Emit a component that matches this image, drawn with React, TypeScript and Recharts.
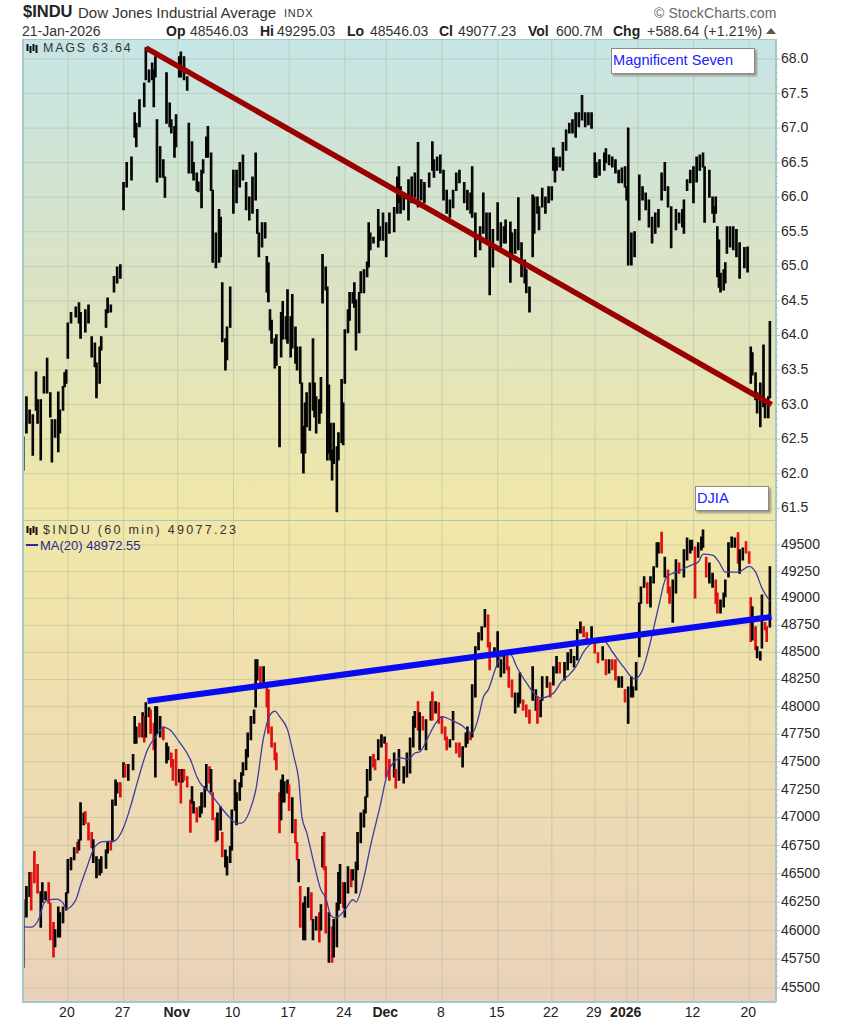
import { Bar, CartesianGrid, Cell, ComposedChart, Line, XAxis, YAxis } from "recharts";

// x positions are 60-minute session counts from the first bar on the chart
const sessionDomain = [-0.2, 472.8];
const gridHours = [28, 63, 97, 132, 167, 202, 228, 263, 298, 332, 359, 379, 386, 421, 456];
const gridLabels = ["20", "27", "Nov", "10", "17", "24", "Dec", "8", "15", "22", "29", "2026", "", "12", "20"];
const boldLabels = ["Nov", "Dec", "2026"];

const magsTicks = [61.5, 62, 62.5, 63, 63.5, 64, 64.5, 65, 65.5, 66, 66.5, 67, 67.5, 68];
const induTicks = [45500, 45750, 46000, 46250, 46500, 46750, 47000, 47250, 47500, 47750, 48000, 48250, 48500, 48750, 49000, 49250, 49500];

const magsHours = [
  0, 2, 4, 6, 8, 9, 11, 13, 15, 17,
  18, 20, 22, 23, 25, 26, 27, 28, 30, 33,
  35, 36, 39, 41, 43, 45, 46, 48, 49, 52,
  53, 55, 57, 59, 61, 63, 65, 68, 70, 71,
  73, 76, 77, 79, 81, 82, 83, 84, 86, 88,
  89, 90, 92, 93, 95, 96, 98, 99, 101, 103,
  104, 106, 107, 109, 110, 112, 113, 115, 116, 118,
  119, 121, 123, 124, 125, 127, 128, 130, 132, 134,
  136, 138, 140, 142, 144, 146, 147, 148, 150, 152,
  153, 154, 155, 156, 158, 159, 161, 162, 163, 165,
  166, 168, 169, 171, 172, 174, 175, 176, 177, 178,
  180, 182, 183, 184, 186, 187, 188, 190, 191, 192,
  193, 194, 195, 197, 198, 200, 201, 202, 204, 205,
  207, 208, 209, 211, 212, 214, 216, 217, 218, 220,
  223, 224, 226, 228, 230, 233, 235, 236, 237, 239,
  242, 244, 246, 248, 250, 252, 255, 257, 258, 260,
  262, 264, 266, 268, 270, 272, 274, 277, 279, 281,
  282, 284, 287, 289, 291, 293, 295, 298, 300, 302,
  303, 306, 307, 309, 311, 313, 315, 316, 318, 320,
  321, 323, 324, 326, 328, 330, 332, 333, 334, 335,
  337, 339, 341, 343, 345, 347, 349, 351, 353, 355,
  357, 359, 360, 362, 365, 366, 368, 370, 372, 374,
  376, 378, 379, 380, 382, 384, 387, 389, 391, 393,
  395, 397, 399, 401, 403, 405, 407, 410, 412, 414,
  415, 417, 419, 421, 423, 425, 427, 428, 431, 433,
  434, 435, 436, 437, 438, 440, 441, 442, 444, 446,
  448, 450, 453, 455, 457, 458, 460, 461, 463, 465,
  466, 468, 469,
];
const magsHighs = [
  62.53, 63.11, 62.92, 62.85, 63.47, 63.07, 63.07, 63.4, 63.67, 63.17,
  62.78, 62.78, 63.18, 62.92, 63.26, 63.46, 63.5, 64.18, 64.33, 64.41,
  64.47, 64.33, 64.37, 64.44, 63.98, 63.89, 63.6, 63.83, 63.98, 64.37,
  64.54, 64.44, 64.85, 64.99, 65.02, 66.21, 66.5, 66.58, 67.22, 67.07,
  67.41, 67.65, 68.16, 67.84, 67.94, 67.84, 68.03, 67.12, 66.73, 66.54,
  66.29, 67.8, 67.36, 67.12, 67.02, 67.19, 68.03, 68.1, 68.03, 67.74,
  67.07, 66.8, 66.5, 66.35, 66.22, 66.39, 66.54, 66.87, 67.02, 66.64,
  66.1, 65.48, 65.82, 65.71, 64.76, 63.95, 64.12, 64.7, 66.39, 66.39,
  66.5, 66.61, 66.21, 66.0, 66.29, 66.64, 65.82, 65.48, 65.63, 65.63,
  65.14, 65.05, 64.37, 64.22, 63.95, 64.01, 63.55, 64.33, 64.49, 64.27,
  64.66, 64.27, 64.59, 64.12, 63.83, 63.83, 63.31, 62.68, 63.02, 63.17,
  63.31, 63.95, 63.31, 63.11, 63.07, 63.39, 65.17, 64.99, 64.7, 63.28,
  62.73, 62.34, 62.73, 62.39, 62.59, 63.36, 63.02, 64.08, 64.37, 64.62,
  64.62, 64.76, 64.51, 64.62, 64.92, 64.95, 65.06, 65.63, 65.48, 65.42,
  65.82, 65.57, 65.77, 65.63, 65.77, 65.85, 66.29, 66.44, 66.15, 66.06,
  66.25, 66.29, 66.35, 66.79, 66.25, 66.21, 66.35, 66.8, 66.54, 66.58,
  66.61, 66.39, 66.1, 65.96, 66.1, 66.35, 66.39, 66.21, 66.1, 66.06,
  66.44, 65.77, 65.57, 66.06, 65.77, 65.77, 65.53, 65.92, 65.63, 65.57,
  65.67, 65.64, 65.48, 65.53, 65.99, 65.34, 65.09, 64.95, 64.7, 66.03,
  66.0, 66.0, 65.86, 66.13, 66.0, 66.15, 66.15, 66.71, 66.58, 66.58,
  66.58, 66.79, 66.97, 67.07, 67.12, 67.22, 67.22, 67.47, 67.22, 67.22,
  67.22, 66.64, 66.5, 66.54, 66.64, 66.7, 66.61, 66.58, 66.54, 66.39,
  66.42, 66.44, 66.15, 67.0, 65.48, 65.5, 66.32, 66.15, 66.06, 65.96,
  65.71, 65.77, 65.82, 66.35, 66.5, 66.15, 65.86, 65.82, 65.77, 65.82,
  65.96, 66.25, 66.39, 66.44, 66.58, 66.61, 66.64, 66.44, 66.39, 66.0,
  65.86, 66.0, 65.57, 65.38, 64.9, 64.95, 65.05, 65.57, 65.57, 65.57,
  65.53, 65.34, 65.27, 65.28, 63.83, 63.75, 63.46, 63.17, 63.31, 63.86,
  63.07, 63.11, 64.2,
];
const magsLows = [
  62.05, 62.59, 62.73, 62.27, 62.92, 62.73, 62.2, 63.17, 63.17, 62.82,
  62.17, 62.53, 62.32, 62.59, 62.92, 63.26, 63.31, 63.67, 64.18, 64.27,
  64.18, 63.96, 64.05, 64.18, 63.69, 63.55, 63.1, 63.31, 63.79, 64.12,
  64.33, 64.34, 64.63, 64.76, 64.83, 65.82, 66.15, 66.25, 66.87, 66.73,
  67.02, 67.31, 67.7, 67.67, 67.7, 67.31, 67.74, 66.22, 66.29, 66.29,
  66.0, 67.07, 67.02, 66.93, 66.58, 66.73, 67.74, 67.74, 67.7, 67.55,
  66.35, 66.35, 66.25, 66.1, 66.08, 65.85, 66.35, 66.58, 66.58, 66.1,
  65.06, 64.98, 65.06, 65.14, 63.91, 63.5, 63.65, 64.12, 65.77, 65.92,
  66.15, 66.25, 65.82, 65.67, 65.77, 65.96, 65.48, 65.14, 65.28, 65.41,
  64.63, 64.49, 64.08, 63.89, 63.53, 63.57, 62.39, 63.69, 63.95, 63.95,
  63.89, 63.69, 63.82, 63.6, 63.5, 63.31, 62.3, 62.01, 62.3, 62.68,
  62.63, 62.92, 62.82, 62.59, 62.73, 62.88, 64.47, 64.66, 62.2, 62.3,
  62.2, 61.91, 62.15, 61.45, 62.2, 62.45, 62.42, 63.31, 64.04, 64.22,
  64.47, 64.41, 63.79, 64.04, 64.62, 64.62, 64.85, 64.99, 65.24, 65.34,
  65.28, 65.38, 65.38, 65.14, 65.48, 65.5, 65.77, 65.92, 65.77, 65.82,
  65.67, 65.92, 66.0, 65.86, 65.96, 65.92, 66.15, 66.39, 66.29, 66.39,
  66.35, 65.96, 65.77, 65.71, 65.85, 66.1, 66.21, 65.92, 65.82, 65.77,
  65.71, 65.14, 65.24, 65.48, 65.34, 64.59, 64.99, 65.38, 65.28, 65.34,
  65.34, 64.77, 65.14, 65.19, 65.24, 64.85, 64.76, 64.62, 64.34, 65.14,
  65.48, 65.77, 65.53, 65.86, 65.77, 65.92, 65.96, 66.39, 66.22, 66.39,
  66.44, 66.39, 66.68, 66.93, 66.93, 66.87, 67.02, 67.12, 67.02, 67.05,
  67.0, 66.29, 66.29, 66.32, 66.39, 66.5, 66.47, 66.44, 66.35, 66.21,
  66.21, 66.15, 65.96, 65.02, 65.02, 65.14, 65.67, 65.96, 65.82, 65.57,
  65.34, 65.48, 65.57, 65.96, 66.1, 65.86, 65.27, 65.53, 65.63, 65.57,
  65.48, 66.1, 66.21, 65.92, 66.22, 66.39, 66.44, 65.64, 66.0, 65.77,
  65.64, 65.77, 64.85, 64.7, 64.63, 64.66, 64.76, 65.19, 65.28, 65.24,
  65.14, 64.83, 64.98, 64.92, 63.31, 63.43, 63.07, 62.88, 62.68, 62.97,
  62.81, 62.81, 63.1,
];
const magsTrendHours = [77, 470];
const magsTrendValues = [68.16, 63.0];

const induHours = [
  0, 2, 4, 5, 7, 9, 11, 12, 14, 16,
  17, 19, 20, 22, 23, 25, 27, 28, 30, 32,
  34, 35, 36, 38, 39, 41, 43, 44, 46, 48,
  49, 52, 53, 55, 56, 58, 59, 61, 63, 64,
  66, 69, 70, 71, 73, 75, 76, 77, 79, 80,
  82, 83, 84, 86, 88, 90, 91, 93, 94, 96,
  98, 99, 100, 101, 103, 105, 106, 107, 109, 111,
  112, 114, 115, 117, 118, 119, 121, 122, 124, 125,
  127, 128, 130, 131, 133, 134, 136, 137, 138, 140,
  141, 143, 145, 146, 147, 149, 151, 153, 154, 156,
  158, 159, 161, 162, 163, 164, 166, 167, 169, 171,
  172, 173, 174, 176, 177, 179, 181, 182, 184, 186,
  187, 188, 189, 190, 192, 194, 195, 197, 198, 199,
  201, 202, 204, 206, 207, 209, 210, 212, 214, 215,
  216, 218, 220, 221, 223, 225, 227, 228, 230, 233,
  234, 236, 239, 241, 243, 245, 246, 248, 249, 251,
  253, 256, 257, 259, 261, 263, 265, 266, 268, 270,
  272, 274, 276, 278, 279, 281, 282, 284, 286, 288,
  290, 292, 293, 296, 298, 300, 302, 304, 305, 307,
  309, 311, 312, 314, 316, 318, 320, 322, 323, 325,
  326, 329, 331, 333, 335, 337, 340, 342, 344, 346,
  348, 350, 352, 354, 357, 359, 361, 364, 366, 368,
  370, 372, 374, 376, 378, 380, 382, 383, 385, 387,
  388, 390, 392, 394, 396, 398, 399, 401, 403, 405,
  406, 408, 410, 412, 415, 417, 419, 420, 422, 424,
  426, 427, 429, 431, 433, 435, 436, 438, 440, 441,
  443, 445, 447, 449, 450, 452, 454, 456, 457, 458,
  460, 461, 463, 464, 466, 467, 469,
];
const induHighs = [
  46270, 46385, 46510, 46510, 46695, 46580, 46340, 46420, 46340, 46420,
  46240, 46070, 46005, 46205, 46155, 46205, 46330, 46625, 46640, 46730,
  46775, 46800, 47130, 47040, 47050, 46950, 46865, 46800, 46650, 46625,
  46650, 46710, 46785, 46785, 47155, 47335, 47310, 47310, 47490, 47475,
  47475, 47565, 47910, 47815, 47850, 47945, 47910, 48035, 47990, 47970,
  47850, 48000, 48000, 47910, 47815, 47670, 47635, 47580, 47520, 47610,
  47430, 47430, 47430, 47430, 47365, 47155, 47275, 47140, 47085, 47095,
  47220, 47275, 47475, 47455, 47430, 47220, 46995, 47040, 47095, 46865,
  46710, 46650, 46740, 47065, 47335, 47220, 47310, 47400, 47490, 47610,
  47760, 47910, 47970, 48430, 48430, 48365, 48365, 48220, 48155, 47815,
  47670, 47580, 47220, 47335, 47380, 47320, 47335, 47290, 47175, 46980,
  46775, 46625, 46385, 46240, 46295, 46375, 46330, 46095, 46120, 46155,
  46225, 46830, 46865, 46560, 46155, 46030, 46095, 46240, 46510, 46580,
  46420, 46420, 46560, 46535, 46535, 46600, 46865, 47040, 47065, 47185,
  47430, 47545, 47565, 47520, 47700, 47745, 47725, 47670, 47520, 47580,
  47430, 47610, 47455, 47580, 47715, 47910, 47955, 48045, 47945, 47910,
  47880, 48045, 48135, 48045, 48035, 47910, 47815, 47725, 47700, 47955,
  47670, 47670, 47635, 47760, 47815, 47760, 48200, 48550, 48680, 48735,
  48895, 48845, 48590, 48540, 48690, 48430, 48460, 48460, 48365, 48245,
  48125, 48125, 48310, 48060, 48015, 47970, 48365, 48155, 48090, 48060,
  48275, 48275, 48220, 48365, 48460, 48405, 48405, 48495, 48525, 48460,
  48710, 48780, 48735, 48680, 48735, 48615, 48495, 48550, 48430, 48430,
  48430, 48430, 48275, 48275, 48155, 48180, 48275, 48180, 48405, 48955,
  49105, 49200, 49145, 49200, 49295, 49520, 49520, 49620, 49385, 49265,
  49105, 49170, 49360, 49330, 49455, 49565, 49545, 49545, 49480, 49520,
  49575, 49640, 49385, 49330, 49235, 49170, 49050, 48985, 49050, 49170,
  49520, 49575, 49565, 49615, 49455, 49470, 49530, 49435, 49005, 48920,
  48735, 48550, 48505, 49030, 48775, 48735, 49295,
];
const induLows = [
  45680, 46120, 46300, 46180, 46420, 46330, 46030, 46250, 46270, 46240,
  45920, 45770, 45860, 45945, 45945, 46070, 46180, 46330, 46535, 46625,
  46685, 46710, 46800, 46935, 46950, 46800, 46730, 46600, 46465, 46490,
  46510, 46550, 46685, 46710, 46785, 47110, 47220, 47185, 47365, 47365,
  47335, 47430, 47670, 47670, 47725, 47725, 47680, 47725, 47910, 47760,
  47610, 47365, 47760, 47725, 47700, 47490, 47520, 47455, 47335, 47290,
  47320, 47130, 47320, 47335, 47275, 46870, 47130, 47040, 46960, 47005,
  47040, 47095, 47245, 47310, 47230, 46980, 46785, 46800, 46890, 46650,
  46560, 46490, 46600, 46710, 47065, 46935, 47155, 47275, 47380, 47430,
  47545, 47700, 47850, 48000, 48245, 48220, 48220, 48000, 47760, 47635,
  47520, 47430, 46865, 46980, 47140, 47140, 47220, 47065, 46865, 46775,
  46625, 46430, 46030, 45920, 45920, 46205, 46095, 45920, 46005, 45900,
  46005, 46560, 46535, 45980, 45725, 45725, 45770, 45860, 46180, 46240,
  46205, 46120, 46330, 46385, 46445, 46330, 46535, 46775, 46915, 47040,
  47185, 47335, 47455, 47430, 47520, 47635, 47670, 47365, 47335, 47365,
  47265, 47335, 47310, 47365, 47400, 47635, 47815, 47790, 47610, 47790,
  47610, 47880, 47880, 47945, 47850, 47760, 47700, 47610, 47635, 47700,
  47580, 47545, 47455, 47635, 47670, 47700, 47725, 48090, 48525, 48615,
  48735, 48550, 48340, 48460, 48365, 48275, 48310, 48340, 48180, 48090,
  47945, 48000, 48035, 47970, 47910, 47850, 48060, 47970, 47850, 47910,
  48060, 48180, 48090, 48200, 48310, 48310, 48245, 48340, 48405, 48365,
  48430, 48680, 48645, 48615, 48590, 48495, 48405, 48430, 48295, 48310,
  48340, 48245, 48180, 48180, 48045, 47850, 48090, 48090, 48155, 48460,
  48955, 49105, 48955, 48920, 49145, 49295, 49425, 49425, 49200, 49050,
  48955, 48780, 49050, 49235, 49200, 49360, 49425, 49455, 49005, 49385,
  49455, 49480, 49200, 49145, 49105, 48955, 48865, 48865, 48920, 49015,
  49200, 49480, 49480, 49330, 49235, 49360, 49425, 49330, 48600, 48615,
  48525, 48450, 48430, 48540, 48710, 48600, 48735,
];
// sessions that closed below the previous one, drawn red
const induDownHours = [
  5, 7, 9, 16, 17, 19, 34, 39, 41, 43, 55, 61, 64, 73, 76, 80, 82, 88, 93, 94, 96, 99, 101, 103, 105, 109,
  117, 119, 121, 125, 149, 153, 154, 156, 158, 159, 161, 167, 171, 172, 174, 181, 186, 189, 190, 194, 201,
  206, 220, 221, 228, 230, 234, 248, 251, 257, 261, 263, 265, 266, 272, 274, 281, 292, 293, 304, 305, 307,
  314, 316, 318, 323, 331, 337, 352, 354, 359, 361, 366, 370, 372, 378, 392, 401, 405, 406, 412, 422, 429,
  435, 436, 449, 454, 456, 457, 460, 466, 467,
];

const maHours = [
  0, 5, 10, 13, 16, 21, 25, 27, 33, 36, 40, 45, 50, 57, 63, 68, 72, 78, 83, 88, 92, 98, 105, 109, 111, 116,
  122, 128, 134, 137, 142, 146, 151, 155, 158, 161, 166, 170, 173, 175, 178, 182, 187, 190, 193, 196, 202,
  207, 209, 214, 218, 224, 229, 233, 237, 242, 246, 249, 254, 259, 263, 270, 275, 282, 286, 289, 292, 297,
  300, 306, 310, 316, 325, 333, 338, 343, 347, 352, 358, 365, 370, 377, 384, 389, 394, 399, 404, 413, 421,
  424, 427, 433, 437, 441, 449, 456, 460, 464, 469,
];
const maValues = [
  46035, 46030, 46110, 46240, 46270, 46275, 46240, 46190, 46270, 46400, 46560, 46740, 46785, 46790, 46910,
  47130, 47335, 47610, 47725, 47815, 47790, 47680, 47520, 47365, 47310, 47240, 47130, 47025, 46950, 46950,
  47050, 47245, 47725, 47925, 47960, 47910, 47790, 47545, 47335, 47005, 46865, 46625, 46355, 46285, 46135,
  46110, 46180, 46270, 46250, 46470, 46740, 47095, 47410, 47500, 47535, 47525, 47580, 47590, 47715, 47850,
  47910, 47870, 47835, 47760, 47910, 48090, 48155, 48365, 48460, 48480, 48365, 48220, 48080, 48125, 48230,
  48295, 48365, 48505, 48590, 48600, 48505, 48365, 48255, 48340, 48600, 48920, 49200, 49265, 49320, 49340,
  49415, 49405, 49340, 49245, 49245, 49300, 49245, 49095, 48975,
];
const induTrendHours = [78, 470];
const induTrendValues = [48053, 48828];

const magsRows = magsHours.map((hour, i) => ({ hour, range: [magsLows[i], magsHighs[i]] }));
const induRows = induHours.map((hour, i) => ({
  hour,
  range: [induLows[i], induHighs[i]],
  down: induDownHours.includes(hour),
}));
const pairs = (hours: number[], values: number[]) => hours.map((hour, i) => ({ hour, value: values[i] }));

const FONT = "'Liberation Sans', Arial, sans-serif";
const AXIS = "#a6c6ca";
const GRID = "#a9b59a";

function withMinor(ticks: number[], parts: number) {
  const out: number[] = [];
  for (let i = 0; i < ticks.length - 1; i++) {
    for (let p = 0; p < parts; p++) out.push(ticks[i] + ((ticks[i + 1] - ticks[i]) * p) / parts);
  }
  out.push(ticks[ticks.length - 1]);
  return out;
}

function PriceTick({ x, y, payload, majors, digits }: any) {
  const value = payload.value;
  const major = majors.some((m: number) => Math.abs(m - value) < 1e-6);
  return (
    <g>
      <line x1={x} x2={x + (major ? 4 : 2)} y1={y} y2={y} stroke={AXIS} strokeWidth={1} />
      {major && (
        <text x={x + 5} y={y + 4} fontFamily={FONT} fontSize={14} fill="#2a2a2a" textAnchor="start">
          {value.toFixed(digits)}
        </text>
      )}
    </g>
  );
}

function DateTick({ x, y, payload }: any) {
  const label = gridLabels[gridHours.indexOf(payload.value)];
  const bold = boldLabels.includes(label);
  return (
    <text x={x - 1} y={y + 15} fontFamily={FONT} fontSize={14} fontWeight={bold ? 700 : 400} fill="#222" textAnchor="middle">
      {label}
    </text>
  );
}

function Text({ x, y, size = 14, bold, color = "#222", spacing, children }: any) {
  return (
    <div
      style={{
        position: "absolute",
        left: x,
        top: y,
        fontFamily: FONT,
        fontSize: size,
        fontWeight: bold ? 700 : 400,
        color,
        letterSpacing: spacing,
        lineHeight: 1,
        whiteSpace: "nowrap",
      }}
    >
      {children}
    </div>
  );
}

function BarIcon({ x, y }: { x: number; y: number }) {
  return (
    <svg style={{ position: "absolute", left: x, top: y }} width={13} height={11}>
      <path d="M1.5 1V8M4.5 3V10M7.5 1V8M10.5 2V10" stroke="#111" strokeWidth={2} />
    </svg>
  );
}

function NoteBox({ x, y, w, h, label }: any) {
  return (
    <div
      style={{
        position: "absolute",
        left: x,
        top: y,
        width: w,
        height: h,
        boxSizing: "border-box",
        background: "#fff",
        border: "1px solid #8a8a8a",
        boxShadow: "2px 2px 2px #9a9a8a",
        color: "#2020ff",
        fontFamily: FONT,
        fontSize: 14.6,
        lineHeight: `${h - 3}px`,
        paddingLeft: 1,
        whiteSpace: "nowrap",
      }}
    >
      {label}
    </div>
  );
}

export default function App() {
  return (
    <div style={{ position: "absolute", left: 0, top: 0, width: 844, height: 1024, background: "#fff", overflow: "hidden" }}>
      <Text x={23} y={3} size={16.5} bold>$INDU</Text>
      <Text x={78} y={5} size={15} color="#333">Dow Jones Industrial Average</Text>
      <Text x={284} y={8} size={11} color="#333" spacing={0.8}>INDX</Text>
      <Text x={654} y={6} size={14} color="#666" spacing={0.1}>© StockCharts.com</Text>

      <Text x={22} y={24} color="#333">21-Jan-2026</Text>
      <Text x={166} y={24} bold>Op</Text>
      <Text x={190} y={24} color="#333">48546.03</Text>
      <Text x={260} y={24} bold>Hi</Text>
      <Text x={277} y={24} color="#333">49295.03</Text>
      <Text x={347} y={24} bold>Lo</Text>
      <Text x={370} y={24} color="#333">48546.03</Text>
      <Text x={439} y={24} bold>Cl</Text>
      <Text x={458} y={24} color="#333">49077.23</Text>
      <Text x={528} y={24} bold>Vol</Text>
      <Text x={556} y={24} color="#333">600.7M</Text>
      <Text x={613} y={24} bold>Chg</Text>
      <Text x={647} y={24} color="#333" spacing={0.2}>+588.64 (+1.21%)</Text>
      <svg style={{ position: "absolute", left: 766, top: 28 }} width={11} height={7}>
        <path d="M0 6L5 0L10 6Z" fill="#5c5c3c" />
      </svg>

      <div style={{ position: "absolute", left: 0, top: 39 }}>
        <ComposedChart width={844} height={481} data={magsRows} margin={{ top: 0, right: 0, bottom: 0, left: 23 }}>
          <defs>
            <linearGradient id="magsBg" x1="0" y1="0" x2="0" y2="1">
              <stop offset="0%" stopColor="#c6e5e6" />
              <stop offset="50%" stopColor="#dbe3c4" />
              <stop offset="100%" stopColor="#f1e7a8" />
            </linearGradient>
          </defs>
          <CartesianGrid
            fill="url(#magsBg)"
            fillOpacity={1}
            stroke={GRID}
            strokeOpacity={0.45}
            horizontalValues={magsTicks}
            verticalValues={gridHours}
          />
          <XAxis dataKey="hour" type="number" domain={sessionDomain} allowDataOverflow hide />
          <YAxis
            orientation="right"
            width={68}
            type="number"
            domain={[61.33, 68.289]}
            allowDataOverflow
            ticks={withMinor(magsTicks, 5)}
            interval={0}
            tickSize={0}
            tickMargin={0}
            axisLine={{ stroke: AXIS, strokeWidth: 2 }}
            tick={<PriceTick majors={magsTicks} digits={1} />}
          />
          <Bar dataKey="range" barSize={2.4} fill="#050505" stroke="#050505" strokeWidth={1.2} isAnimationActive={false} />
          <Line
            data={pairs(magsTrendHours, magsTrendValues)}
            dataKey="value"
            stroke="#990000"
            strokeWidth={5.5}
            dot={false}
            isAnimationActive={false}
          />
        </ComposedChart>
      </div>

      <div style={{ position: "absolute", left: 0, top: 520 }}>
        <ComposedChart width={844} height={504} data={induRows} margin={{ top: 0, right: 0, bottom: 0, left: 23 }}>
          <defs>
            <linearGradient id="induBg" x1="0" y1="0" x2="0" y2="1">
              <stop offset="0%" stopColor="#f1e7a8" />
              <stop offset="50%" stopColor="#eedcb0" />
              <stop offset="100%" stopColor="#ead1ba" />
            </linearGradient>
          </defs>
          <CartesianGrid
            fill="url(#induBg)"
            fillOpacity={1}
            stroke={GRID}
            strokeOpacity={0.45}
            horizontalValues={induTicks}
            verticalValues={gridHours}
          />
          <XAxis
            dataKey="hour"
            type="number"
            domain={sessionDomain}
            allowDataOverflow
            ticks={gridHours}
            interval={0}
            height={22}
            tickSize={0}
            tickMargin={0}
            axisLine={{ stroke: AXIS, strokeWidth: 2 }}
            tick={<DateTick />}
          />
          <YAxis
            orientation="right"
            width={68}
            type="number"
            scale="log"
            domain={[45379, 49736]}
            allowDataOverflow
            ticks={withMinor(induTicks, 5)}
            interval={0}
            tickSize={0}
            tickMargin={0}
            axisLine={{ stroke: AXIS, strokeWidth: 2 }}
            tick={<PriceTick majors={induTicks} digits={0} />}
          />
          <Bar dataKey="range" barSize={2.4} fill="#050505" strokeWidth={1.2} isAnimationActive={false}>
            {induRows.map((row) => (
              <Cell
                key={row.hour}
                fill={row.down ? "#e01010" : "#050505"}
                stroke={row.down ? "#e01010" : "#050505"}
              />
            ))}
          </Bar>
          <Line
            data={pairs(maHours, maValues)}
            dataKey="value"
            type="monotone"
            stroke="#3c3ca6"
            strokeWidth={1.3}
            dot={false}
            isAnimationActive={false}
          />
          <Line
            data={pairs(induTrendHours, induTrendValues)}
            dataKey="value"
            stroke="#0a0af0"
            strokeWidth={6}
            dot={false}
            isAnimationActive={false}
          />
        </ComposedChart>
      </div>

      {/* frame left of and between the panels */}
      <div style={{ position: "absolute", left: 22, top: 39, width: 2, height: 964, background: AXIS }} />
      <div style={{ position: "absolute", left: 22, top: 39, width: 755, height: 1, background: AXIS }} />
      <div style={{ position: "absolute", left: 22, top: 520, width: 755, height: 1, background: AXIS }} />

      <BarIcon x={26} y={43} />
      <Text x={43} y={42} size={12.5} color="#333" spacing={1.8}>MAGS 63.64</Text>
      <BarIcon x={26} y={525} />
      <Text x={43} y={524} size={12.5} color="#333" spacing={2.3}>$INDU (60 min) 49077.23</Text>
      <div style={{ position: "absolute", left: 26, top: 544, width: 12, height: 2, background: "#2a2a90" }} />
      <Text x={40} y={539} size={13} color="#2a2a90">MA(20) 48972.55</Text>

      <NoteBox x={611} y={48} w={144} h={26} label="Magnificent Seven" />
      <NoteBox x={695} y={486} w={74} h={25} label="DJIA" />
    </div>
  );
}
